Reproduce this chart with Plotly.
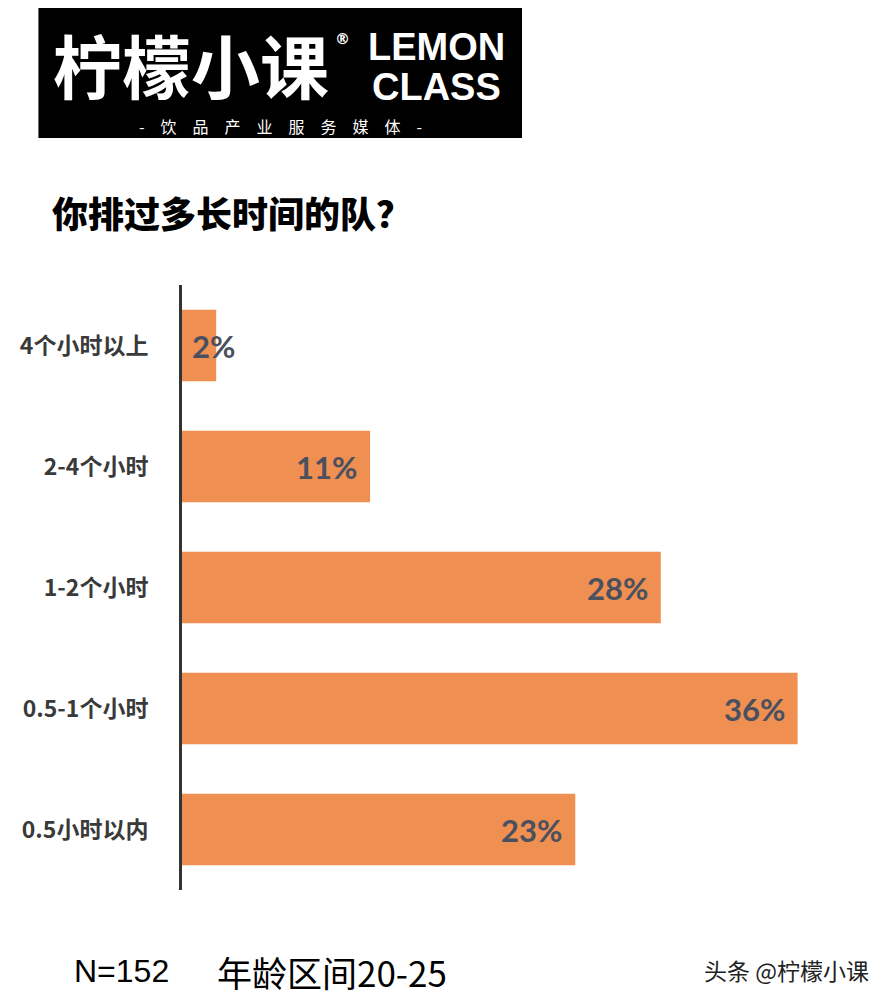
import plotly.graph_objects as go

categories = ["4个小时以上", "2-4个小时", "1-2个小时", "0.5-1个小时", "0.5小时以内"]
values = [2, 11, 28, 36, 23]
labels = ["2%", "11%", "28%", "36%", "23%"]

title_text = "你排过多长时间的队？"
footer_left = "N=152"
footer_mid = "年龄区间20-25"
footer_right = "头条 @柠檬小课"

CJK = "Noto Sans CJK SC"
BAR_COLOR = "#EF8F52"
LABEL_COLOR = "#4A505E"

# page body has an 8px margin, so the figure is sized to fit the window
W, H = 882, 993
PL, PR, PT, PB = 180, 866, 285, 890  # plot area in window pixels

fig = go.Figure()
fig.add_trace(go.Bar(
    x=values, y=categories, orientation="h",
    marker=dict(color=BAR_COLOR, line=dict(width=0)),
    width=0.59, hoverinfo="skip",
))

for c, v, t in zip(categories, values, labels):
    if v < 5:
        fig.add_annotation(x=0, y=c, xref="x", yref="y", text=t, showarrow=False,
                           xanchor="left", xshift=8,
                           font=dict(family="Lato", size=31, color=LABEL_COLOR, weight="bold"))
    else:
        fig.add_annotation(x=v, y=c, xref="x", yref="y", text=t, showarrow=False,
                           xanchor="right", xshift=-11,
                           font=dict(family="Lato", size=31, color=LABEL_COLOR, weight="bold"))


def px(x, y):
    return dict(xref="paper", yref="paper",
                x=(x - PL) / (PR - PL), y=(PB - y) / (PB - PT))


# logo block
fig.add_shape(type="rect", xref="paper", yref="paper",
              x0=(36 - PL) / (PR - PL), x1=(521 - PL) / (PR - PL),
              y0=(PB - 138) / (PB - PT), y1=(PB - 8) / (PB - PT),
              line=dict(width=0), fillcolor="#000000", layer="above")

fig.add_annotation(**px(189, 64), text="柠檬小课", showarrow=False, xanchor="center", yanchor="middle",
                   font=dict(family=CJK, size=69, color="white", weight="bold"))
fig.add_annotation(**px(341, 39), text="®", showarrow=False, xanchor="center", yanchor="middle",
                   font=dict(family="DejaVu Sans", size=15, color="white", weight="bold"))
fig.add_annotation(**px(435, 47), text="LEMON", showarrow=False,
                   xanchor="center", yanchor="middle",
                   font=dict(family="Liberation Sans", size=38, color="white", weight="bold"))
fig.add_annotation(**px(435, 87), text="CLASS", showarrow=False,
                   xanchor="center", yanchor="middle",
                   font=dict(family="Liberation Sans", size=38, color="white", weight="bold"))
fig.add_annotation(**px(279, 126), text="-　饮　品　产　业　服　务　媒　体　-", showarrow=False,
                   xanchor="center", yanchor="middle",
                   font=dict(family=CJK, size=16, color="white"))

# title
fig.add_annotation(**px(48, 212), text=title_text, showarrow=False, xanchor="left", yanchor="middle",
                   font=dict(family=CJK, size=36, color="#000000", weight=900))

# footer
fig.add_annotation(**px(70, 971), text=footer_left, showarrow=False, xanchor="left", yanchor="middle",
                   font=dict(family="Liberation Sans", size=32, color="#000000"))
fig.add_annotation(**px(213, 971), text=footer_mid, showarrow=False, xanchor="left", yanchor="middle",
                   font=dict(family=CJK, size=35, color="#000000"))
fig.add_annotation(**px(871, 970), text=footer_right, showarrow=False, xanchor="right", yanchor="middle",
                   font=dict(family=CJK, size=23, color="#222222"))

fig.update_layout(
    width=W, height=H,
    margin=dict(l=PL - 8, r=W - (PR - 8), t=PT - 8, b=H - (PB - 8)),
    paper_bgcolor="white", plot_bgcolor="white",
    showlegend=False,
    xaxis=dict(range=[0, 40], visible=False, fixedrange=True),
    yaxis=dict(categoryorder="array", categoryarray=categories,
               range=[4.5, -0.5],
               showline=True, linecolor="#333333", linewidth=3, ticks="",
               showgrid=False, zeroline=False, ticklabelstandoff=26,
               tickfont=dict(family=CJK, size=23, color="#3A3A3A", weight="bold")),
)

fig.write_html("out.html")
